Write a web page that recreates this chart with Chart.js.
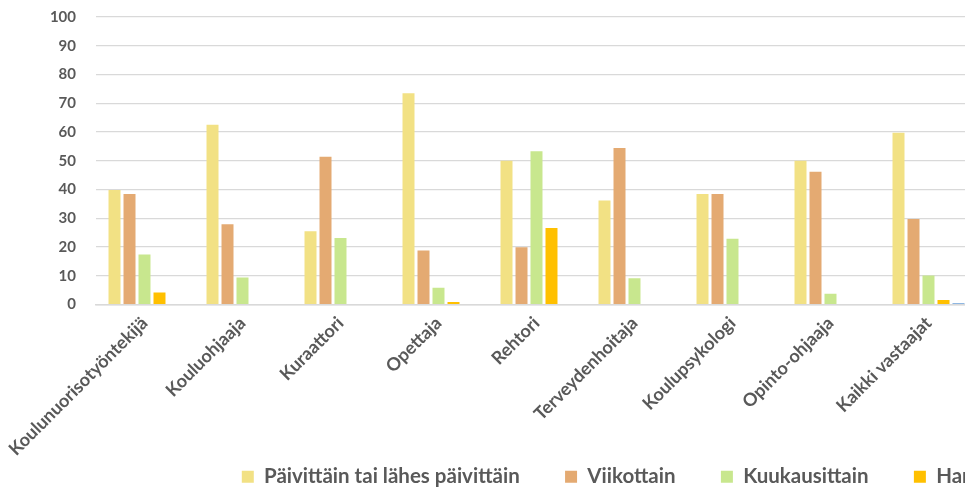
<!DOCTYPE html>
<html>
<head>
<meta charset="utf-8">
<title>Yhteistyö</title>
<script src="https://cdn.jsdelivr.net/npm/chart.js@4/dist/chart.umd.min.js"></script>
<style>
  html, body { margin: 0; padding: 0; background: #fff; overflow: hidden; }
  #bar-canvas { display: block; }
</style>
</head>
<body>
<canvas id="bar-canvas" width="1488" height="497"></canvas>
<script>
// ammattiryhmät x-akselilla
var categories = ["Koulunuorisotyöntekijä", "Kouluohjaaja", "Kuraattori", "Opettaja", "Rehtori",
  "Terveydenhoitaja", "Koulupsykologi", "Opinto-ohjaaja", "Kaikki vastaajat"];

var seriesNames = ["Päivittäin tai lähes päivittäin", "Viikottain", "Kuukausittain", "Harvemmin", "Ei koskaan"];

// prosentit
var paivittain    = [39.8, 62.5, 25.5, 73.5, 50.0, 36.2, 38.4, 50.0, 59.7];
var viikottain    = [38.4, 27.9, 51.4, 18.8, 19.9, 54.4, 38.4, 46.2, 29.7];
var kuukausittain = [17.4,  9.4, 23.1,  5.8, 53.3,  9.1, 22.9,  3.7, 10.1];
var harvemmin     = [ 4.2,  0,    0,    0.9, 26.6,  0,    0,    0,    1.6];
var eiKoskaan     = [ 0,    0,    0,    0,    0,    0,    0,    0,    0.4];

var colors = ["#F2E184", "#E4AA72", "#C8E78E", "#FFC000", "#6A9FD8"];

var yMin = 0, yMax = 100, yStep = 10;

Chart.defaults.font.family = "Lato";
Chart.defaults.font.weight = "bold";
Chart.defaults.color = "#595959";

var values = [paivittain, viikottain, kuukausittain, harvemmin, eiKoskaan];
var datasets = [];
values.forEach(function(v, i) {
  datasets.push({
    label: seriesNames[i],
    data: v,
    backgroundColor: colors[i],
    borderWidth: 0,
    barPercentage: 0.8,
    categoryPercentage: 0.765
  });
});

var canvas = document.getElementById("bar-canvas");
var plotRight = 977.5;
// väli legendan selitteiden välissä
var legendGap = "        ";

var chart = new Chart(canvas, {
  type: "bar",
  data: {
    labels: categories,
    datasets: datasets
  },
  options: {
    responsive: false,
    animation: false,
    layout: { padding: { top: 17, left: 0, right: 0, bottom: 0 } },
    plugins: {
      tooltip: { enabled: false },
      legend: {
        position: "bottom",
        labels: {
          boxWidth: 12,
          boxHeight: 12,
          padding: 5.5,
          color: "#595959",
          font: { size: 20.5, weight: "bold" },
          generateLabels: function(c) {
            var items = Chart.defaults.plugins.legend.labels.generateLabels(c);
            items.forEach(function(it) { it.text = it.text + legendGap; });
            return items;
          }
        }
      }
    },
    scales: {
      x: {
        grid: { display: true, drawOnChartArea: false, drawTicks: true, tickLength: 5, tickColor: "transparent" },
        border: { display: true, color: "#D9D9D9", width: 1.5 },
        ticks: {
          autoSkip: false,
          minRotation: 45,
          maxRotation: 45,
          padding: 3,
          color: "#595959",
          font: { size: 18, weight: "bold" }
        },
        afterFit: function(scale) { scale.height = 156.5; }
      },
      y: {
        min: yMin,
        max: yMax,
        grid: { color: "#D9D9D9", lineWidth: 1.2, drawTicks: true, tickLength: 16.5, tickColor: "transparent" },
        border: { display: false },
        ticks: {
          stepSize: yStep,
          padding: 3,
          color: "#595959",
          font: { size: 15, weight: "bold" }
        },
        afterFit: function(scale) { scale.width = 95.5; }
      },
      // tyhjä akseli oikealla, pitää piirtoalueen kapeampana kuin legenda
      yRight: {
        type: "linear",
        position: "right",
        display: true,
        grid: { display: false },
        border: { display: false },
        ticks: { display: false },
        afterFit: function(scale) { scale.width = canvas.width - plotRight; }
      }
    }
  }
});
</script>
</body>
</html>
